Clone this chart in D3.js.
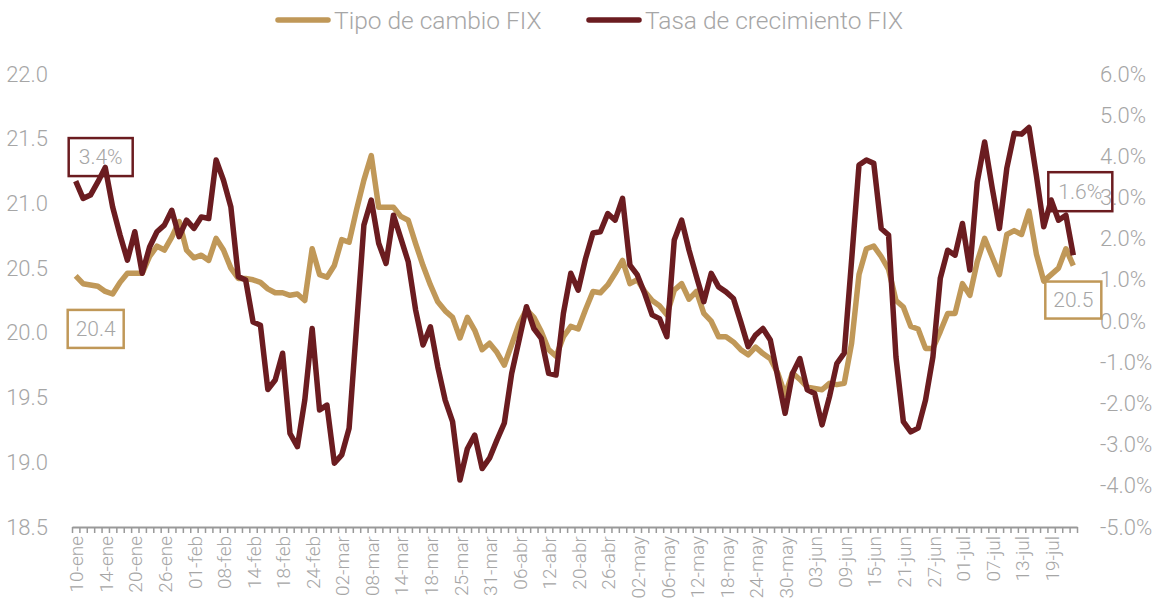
<!DOCTYPE html>
<html lang="es">
<head>
	<meta charset="UTF-8"/>
	<title>Tipo de cambio FIX</title>
	<script src="https://d3js.org/d3.v7.min.js"></script>
	<style>
		body { margin: 0; background: #fff; }
		svg text { font-family: Roboto, "Open Sans", sans-serif; font-weight: 300; fill: #a6a6a6; }
	</style>
</head>
<body>
<script>
	// ***Data***
	var holidays = ["2022-02-07", "2022-03-21", "2022-04-14", "2022-04-15"];
	var months = ["ene", "feb", "mar", "abr", "may", "jun", "jul", "ago", "sep", "oct", "nov", "dic"];
	var fmtDay = d3.timeFormat("%Y-%m-%d");
	var parse = d3.timeParse("%Y-%m-%d");
	// business days (no weekends, no bank holidays)
	var dates = d3.timeDay.range(parse("2022-01-10"), parse("2022-07-23"))
		.filter(function(d) {
			return d.getDay() != 0 && d.getDay() != 6 && holidays.indexOf(fmtDay(d)) < 0;
		});
	var categories = dates.map(function(d) {
		return d3.timeFormat("%d")(d) + "-" + months[d.getMonth()];
	});

	// Tipo de cambio FIX (pesos por dolar)
	var fix = [
		20.44, 20.38, 20.37, 20.36, 20.32, 20.30, 20.39, 20.46, 20.46, 20.46,
		20.59, 20.67, 20.64, 20.74, 20.86, 20.64, 20.58, 20.60, 20.56, 20.73,
		20.64, 20.50, 20.42, 20.42, 20.41, 20.39, 20.34, 20.31, 20.31, 20.29,
		20.30, 20.25, 20.65, 20.45, 20.43, 20.52, 20.72, 20.70, 20.95, 21.18,
		21.37, 20.97, 20.97, 20.97, 20.90, 20.87, 20.69, 20.52, 20.37, 20.24,
		20.17, 20.12, 19.96, 20.12, 20.02, 19.87, 19.92, 19.85, 19.75, 19.91,
		20.07, 20.18, 20.12, 20.01, 19.87, 19.82, 19.97, 20.05, 20.03, 20.18,
		20.32, 20.31, 20.37, 20.46, 20.56, 20.38, 20.41, 20.32, 20.25, 20.21,
		20.14, 20.33, 20.38, 20.26, 20.32, 20.15, 20.09, 19.97, 19.97, 19.93,
		19.87, 19.83, 19.89, 19.84, 19.80, 19.69, 19.52, 19.69, 19.64, 19.58,
		19.57, 19.56, 19.61, 19.60, 19.61, 19.92, 20.45, 20.65, 20.67, 20.59,
		20.49, 20.25, 20.20, 20.05, 20.03, 19.88, 19.88, 20.01, 20.15, 20.15,
		20.38, 20.29, 20.55, 20.73, 20.59, 20.45, 20.76, 20.79, 20.76, 20.94,
		20.61, 20.40, 20.45, 20.50, 20.65, 20.52
	];
	// Tasa de crecimiento FIX (%)
	var tasa = [
		3.40, 2.98, 3.06, 3.38, 3.73, 2.77, 2.09, 1.48, 2.17, 1.16,
		1.80, 2.17, 2.33, 2.69, 2.05, 2.45, 2.25, 2.53, 2.49, 3.91,
		3.42, 2.77, 1.08, 1.00, -0.02, -0.10, -1.66, -1.43, -0.78, -2.73,
		-3.05, -1.92, -0.18, -2.16, -2.04, -3.45, -3.25, -2.60, -0.14, 2.33,
		2.94, 1.89, 1.40, 2.57, 2.01, 1.44, 0.27, -0.58, -0.14, -1.11,
		-1.92, -2.44, -3.86, -3.10, -2.77, -3.58, -3.33, -2.89, -2.48, -1.27,
		-0.46, 0.35, -0.18, -0.42, -1.27, -1.31, 0.19, 1.16, 0.75, 1.52,
		2.14, 2.17, 2.61, 2.45, 2.98, 1.36, 1.12, 0.67, 0.15, 0.06,
		-0.38, 1.97, 2.45, 1.72, 1.08, 0.47, 1.16, 0.83, 0.71, 0.55,
		-0.02, -0.62, -0.34, -0.18, -0.46, -1.35, -2.24, -1.27, -0.91, -1.67,
		-1.76, -2.52, -1.84, -1.03, -0.78, 1.48, 3.79, 3.91, 3.83, 2.25,
		2.09, -0.87, -2.44, -2.69, -2.60, -1.92, -0.87, 1.04, 1.72, 1.60,
		2.37, 1.24, 3.38, 4.35, 3.26, 2.25, 3.71, 4.56, 4.54, 4.70,
		3.54, 2.29, 2.94, 2.45, 2.57, 1.60
	];
	var leftTicks = [18.5, 19.0, 19.5, 20.0, 20.5, 21.0, 21.5, 22.0];
	var rightTicks = [-5, -4, -3, -2, -1, 0, 1, 2, 3, 4, 5, 6];
	var seriesNames = ["Tipo de cambio FIX", "Tasa de crecimiento FIX"];
	var colors = ["#c09858", "#6b1c20"];

	// ***Layout***
	var w = 1159;
	var h = 600;
	var plotLeft = 72, plotRight = 1077, plotTop = 74, plotBottom = 527;

	var svg = d3.select("body")
		.append("svg")
		.attr("width", w)
		.attr("height", h);

	var xScale = d3.scaleBand()
		.domain(categories)
		.range([plotLeft, plotRight]);
	var xEdge = d3.scaleLinear()
		.domain([0, categories.length])
		.range([plotLeft, plotRight]);
	var yLeft = d3.scaleLinear()
		.domain([18.5, 22])
		.range([plotBottom, plotTop]);
	var yRight = d3.scaleLinear()
		.domain([-5, 6])
		.range([plotBottom, plotTop]);

	function cx(i) {
		return xScale(categories[i]) + xScale.bandwidth() / 2;
	}

	// left axis
	svg.append("g")
		.attr("transform", "translate(48,0)")
		.call(d3.axisLeft(yLeft).tickValues(leftTicks).tickSize(0).tickFormat(d3.format(".1f")))
		.call(function(g) { g.select(".domain").remove(); })
		.selectAll("text")
		.attr("x", 0)
		.style("font-size", "22px");

	// right axis
	svg.append("g")
		.attr("transform", "translate(1100,0)")
		.call(d3.axisRight(yRight).tickValues(rightTicks).tickSize(0).tickFormat(function(d) {
			return d.toFixed(1) + "%";
		}))
		.call(function(g) { g.select(".domain").remove(); })
		.selectAll("text")
		.attr("x", 0)
		.style("font-size", "22px");

	// x axis: tick marks at category edges
	svg.append("g")
		.attr("transform", "translate(0," + plotBottom + ")")
		.call(d3.axisBottom(xEdge).tickValues(d3.range(categories.length + 1)).tickSize(6).tickSizeOuter(0).tickFormat(""))
		.call(function(g) {
			g.select(".domain").attr("stroke", "#999").attr("stroke-width", 2);
			g.selectAll(".tick line").attr("stroke", "#999").attr("stroke-width", 1.5);
		});

	// x axis labels, every 4th day
	svg.append("g")
		.attr("transform", "translate(0," + plotBottom + ")")
		.call(d3.axisBottom(xScale).tickValues(categories.filter(function(d, i) { return i % 4 == 0; })).tickSize(0))
		.call(function(g) { g.select(".domain").remove(); })
		.selectAll("text")
		.attr("transform", "rotate(-90)")
		.attr("text-anchor", "end")
		.attr("x", -9)
		.attr("y", 1)
		.attr("dy", "0.35em")
		.style("font-size", "19px");

	// lines
	var idx = d3.range(categories.length);
	var lineFix = d3.line()
		.x(function(i) { return cx(i); })
		.y(function(i) { return yLeft(fix[i]); });
	var lineTasa = d3.line()
		.x(function(i) { return cx(i); })
		.y(function(i) { return yRight(tasa[i]); });

	svg.append("path")
		.datum(idx)
		.attr("d", lineFix)
		.attr("fill", "none")
		.attr("stroke", colors[0])
		.attr("stroke-width", 5.5)
		.attr("stroke-linejoin", "round");
	svg.append("path")
		.datum(idx)
		.attr("d", lineTasa)
		.attr("fill", "none")
		.attr("stroke", colors[1])
		.attr("stroke-width", 5.5)
		.attr("stroke-linejoin", "round");

	// data labels (first and last value)
	var last = categories.length - 1;
	var labels = [
		{ x: cx(0), y: yRight(tasa[0]), dx: -7, dy: -43, bw: 64, bh: 38, text: tasa[0].toFixed(1) + "%", c: colors[1] },
		{ x: cx(0), y: yLeft(fix[0]), dx: -8, dy: 34, bw: 56, bh: 38, text: fix[0].toFixed(1), c: colors[0] },
		{ x: cx(last), y: yRight(tasa[last]), dx: -25, dy: -83, bw: 64, bh: 39, text: tasa[last].toFixed(1) + "%", c: colors[1] },
		{ x: cx(last), y: yLeft(fix[last]), dx: -28, dy: 16, bw: 56, bh: 37, text: fix[last].toFixed(1), c: colors[0] }
	];
	var lab = svg.selectAll("g.lab")
		.data(labels)
		.enter()
		.append("g")
		.attr("class", "lab")
		.attr("transform", function(d) { return "translate(" + (d.x + d.dx) + "," + (d.y + d.dy) + ")"; });
	lab.append("rect")
		.attr("width", function(d) { return d.bw; })
		.attr("height", function(d) { return d.bh; })
		.attr("fill", "none")
		.attr("stroke", function(d) { return d.c; })
		.attr("stroke-width", 2.5);
	lab.append("text")
		.attr("x", function(d) { return d.bw / 2; })
		.attr("y", function(d) { return d.bh / 2; })
		.attr("dy", "0.35em")
		.attr("text-anchor", "middle")
		.style("font-size", "21px")
		.text(function(d) { return d.text; });

	// legend
	var legX = [278, 589];
	var legend = svg.selectAll("g.legend")
		.data(seriesNames)
		.enter()
		.append("g")
		.attr("class", "legend")
		.attr("transform", function(d, i) { return "translate(" + legX[i] + ",20)"; });
	legend.append("line")
		.attr("x1", 0)
		.attr("x2", 50)
		.attr("stroke", function(d, i) { return colors[i]; })
		.attr("stroke-width", 5.5)
		.attr("stroke-linecap", "round");
	legend.append("text")
		.attr("x", 56)
		.attr("dy", "0.35em")
		.style("font-size", "24.5px")
		.text(function(d) { return d; });
</script>
</body>
</html>
